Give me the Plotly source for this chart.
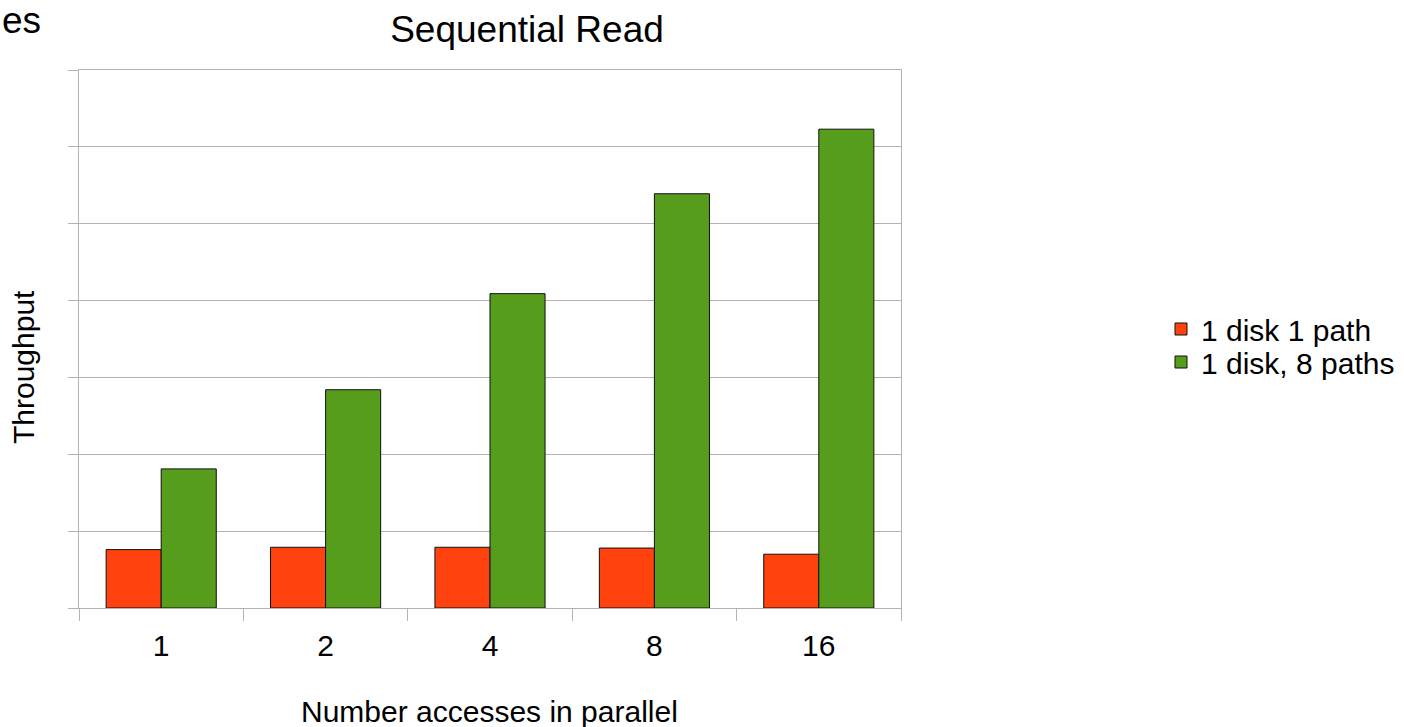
import plotly.graph_objects as go

categories = ["1", "2", "4", "8", "16"]
series_names = ["1 disk 1 path", "1 disk, 8 paths"]
one_path = [0.76, 0.79, 0.79, 0.78, 0.70]
eight_paths = [1.81, 2.84, 4.09, 5.39, 6.23]
colors = ["#FF420E", "#579D1C"]

W, H = 1404, 727
L, R, T, B = 79, 901, 70, 608
FONT = "Liberation Sans, Arial, sans-serif"

def px_x(p):
    return (p - L) / (R - L)

def px_y(p):
    return (B - p) / (B - T)

fig = go.Figure()
legend_ids = ["legend", "legend2"]
for name, vals, col, lg in zip(series_names, [one_path, eight_paths], colors, legend_ids):
    fig.add_trace(go.Bar(
        x=categories, y=vals, name=name, legend=lg,
        marker=dict(color=col, line=dict(color="#111111", width=1)),
    ))

legend_common = dict(xanchor="left", yanchor="middle", bgcolor="rgba(0,0,0,0)",
                     font=dict(size=30, family=FONT), itemwidth=30)

fig.update_layout(
    width=W, height=H,
    margin=dict(l=L, r=W - R, t=T, b=H - B, autoexpand=False),
    paper_bgcolor="white", plot_bgcolor="white",
    font=dict(family=FONT, color="black"),
    barmode="group", bargap=0.33, bargroupgap=0,
    showlegend=True,
    legend=dict(x=px_x(1161), y=px_y(329), **legend_common),
    legend2=dict(x=px_x(1161), y=px_y(362), **legend_common),
    title=dict(text="Sequential Read", x=527 / W, xref="container", xanchor="center",
               y=1 - 29 / H, yref="container", yanchor="middle",
               font=dict(size=37, family=FONT)),
    xaxis=dict(type="category", tickson="boundaries", ticks="outside", ticklen=12,
               tickcolor="#b3b3b3", tickwidth=1, ticklabelstandoff=11,
               showline=True, linecolor="#b3b3b3", linewidth=1, mirror=True,
               showgrid=False, tickfont=dict(size=30, family=FONT), automargin=False),
    yaxis=dict(range=[0, 7], dtick=1, tick0=0, ticks="outside", ticklen=10,
               tickcolor="#b3b3b3", tickwidth=1, showticklabels=False,
               showline=True, linecolor="#b3b3b3", linewidth=1, mirror=True,
               showgrid=True, gridcolor="#b3b3b3", gridwidth=1, zeroline=False,
               automargin=False),
    annotations=[
        dict(text="Number accesses in parallel", xref="paper", yref="paper",
             x=px_x(489), y=px_y(711), xanchor="center", yanchor="middle",
             showarrow=False, font=dict(size=30, family=FONT)),
        dict(text="Throughput", xref="paper", yref="paper",
             x=px_x(24), y=px_y(367), xanchor="center", yanchor="middle",
             textangle=-90, showarrow=False, font=dict(size=30, family=FONT)),
        dict(text="es", xref="paper", yref="paper",
             x=px_x(0), y=px_y(20), xanchor="left", yanchor="middle",
             showarrow=False, font=dict(size=37, family=FONT)),
    ],
)

fig.write_html(
    "out.html",
    config={"displayModeBar": False},
    post_script="document.body.style.margin='0';document.body.style.overflow='hidden';",
)
